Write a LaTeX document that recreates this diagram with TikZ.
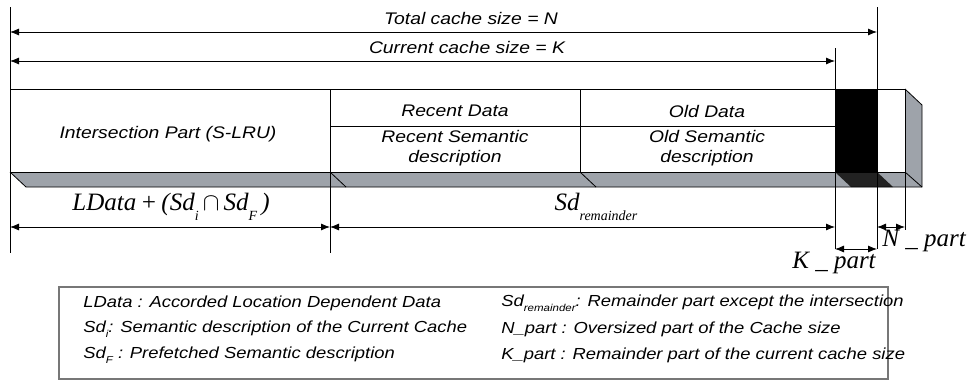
\documentclass[tikz,border=0pt]{standalone}
\usepackage{fontspec}
\setmainfont{Liberation Sans}[FakeStretch=1.15]
\newfontfamily\eqfont{Liberation Serif}
\usetikzlibrary{arrows.meta}

\definecolor{slate}{HTML}{9EA3AA}
\definecolor{inkblk}{HTML}{222222}
\definecolor{legframe}{HTML}{777777}

\newcommand\eqsub[1]{\raisebox{-0.4em}{\fontsize{14}{14}\selectfont #1}}
\newcommand\legsub[1]{\raisebox{-0.3em}{\fontsize{10}{10}\selectfont #1}}

\begin{document}
\begin{tikzpicture}[%
    x=1pt,
    y=-1pt,
    line width=0.8pt,
    dimline/.style={
      {Latex[length=9pt,width=7pt]}-{Latex[length=9pt,width=7pt]},
      line width=0.8pt
    },
    celltext/.style={
      font=\fontsize{16.8}{20}\selectfont\itshape,
      align=center,
      inner sep=0pt
    },
    eqtext/.style={
      font=\eqfont\fontsize{25}{28}\selectfont\itshape,
      inner sep=0pt
    },
    legtext/.style={
      font=\fontsize{16}{18}\selectfont\itshape,
      anchor=west,
      inner sep=0pt
    },
    legbox/.style={
      rectangle,
      draw=legframe,
      line width=1.4pt,
      minimum width=829pt,
      minimum height=92pt
    },
  ]
    \useasboundingbox (0,0) rectangle (967,381);

    % bottom and side faces of the cache
    \fill[slate] (10,172) -- (905,172) -- (922,187) -- (26,187) -- cycle;
    \fill[slate] (905,89) -- (922,105) -- (922,187) -- (905,172) -- cycle;
    \fill[black] (835,89) rectangle (877,172);
    \fill[inkblk] (835,172) -- (877,172) -- (893,187) -- (851,187) -- cycle;
    \draw (10,89) rectangle (905,172);
    \draw (10,172) -- (26,187) -- (922,187) -- (922,105) -- (905,89);
    \draw (330,172) -- (346,187);
    \draw (580,172) -- (596,187);
    \draw (905,172) -- (922,187);
    \draw (330,126) -- (835,126);
    \draw (580,89) -- (580,172);

    % extension lines
    \draw (10,7) -- (10,253);
    \draw (330,89) -- (330,253);
    \draw (835,48) -- (835,249);
    \draw (877,7) -- (877,249);
    \draw (905,172) -- (905,230);

    \coordinate (tl) at (10,32);
    \coordinate (tr) at (877,32);
    \coordinate (cl) at (10,61);
    \coordinate (cr) at (835,61);
    \coordinate (bl) at (10,227);
    \coordinate (bm) at (330,227);
    \coordinate (br) at (835,227);
    \coordinate (nl) at (877,227);
    \coordinate (nr) at (905,227);
    \coordinate (kl) at (835,249);
    \coordinate (kr) at (877,249);

    \draw [dimline] (tl) -- (tr);
    \draw [dimline] (cl) -- (cr);
    \draw [dimline] (bl) -- (bm);
    \draw [dimline] (bm) -- (br);
    \draw [dimline] (nl) -- (nr);
    \draw [dimline] (kl) -- (kr);

    \node[celltext] (total) at (471,18) {Total cache size = N};
    \node[celltext] (current) at (467,47) {Current cache size = K};
    \node[celltext] (inter) at (168,134) {Intersection Part (S-LRU)};
    \node[celltext] (recent) at (455,111) {Recent Data};
    \node[celltext] (recentsd) at (455,148) {Recent Semantic\\description};
    \node[celltext] (old) at (707,111) {Old Data};
    \node[celltext] (oldsd) at (707,148) {Old Semantic\\description};

    \node[eqtext] (ldata) at (171,207)
      {LData\,+\,(Sd\eqsub{i}\,$\cap$\,Sd\eqsub{F}\,)};
    \node[eqtext] (sdrem) at (596,207) {Sd\eqsub{remainder}};
    \node[eqtext, anchor=west] (npart) at (882,241) {N \_ part};
    \node[eqtext] (kpart) at (834,263) {K \_ part};

    % legend
    \node[legbox] (legend) at (473.5,333) {};
    \node[legtext] (leg1) at (83,303) {LData : Accorded Location Dependent Data};
    \node[legtext] (leg2) at (83,329) {Sd\legsub{i}: Semantic description of the Current Cache};
    \node[legtext] (leg3) at (83,355) {Sd\legsub{F} : Prefetched Semantic description};
    \node[legtext] (leg4) at (501,303) {Sd\legsub{remainder}: Remainder part except the intersection};
    \node[legtext] (leg5) at (501,329) {N\_part : Oversized part of the Cache size};
    \node[legtext] (leg6) at (501,355) {K\_part : Remainder part of the current cache size};
  \end{tikzpicture}
\end{document}
